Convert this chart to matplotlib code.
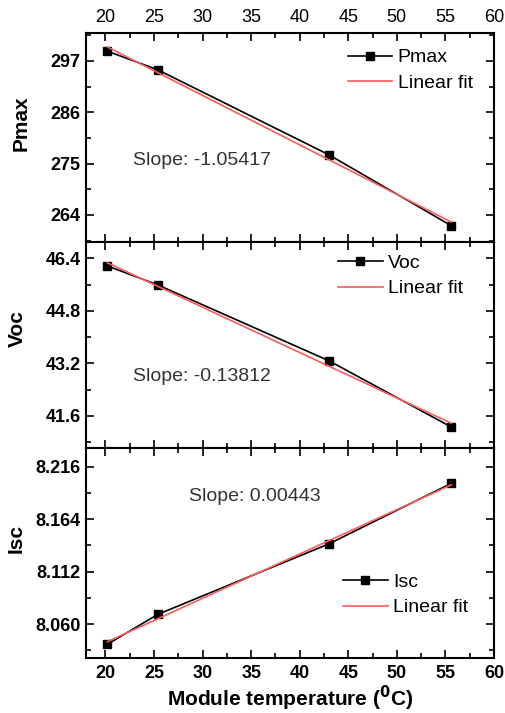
import numpy as np
import matplotlib
matplotlib.use("Agg")
import matplotlib.pyplot as plt
from matplotlib.ticker import MultipleLocator, AutoMinorLocator

plt.rcParams['font.family'] = ['Liberation Sans', 'DejaVu Sans']

temp = [20.2, 25.4, 43.0, 55.6]
pmax = [299.1, 295.1, 276.9, 261.7]
voc = [46.17, 45.59, 43.28, 41.26]
isc = [8.0399, 8.0696, 8.1395, 8.1995]

xticks = [20, 25, 30, 35, 40, 45, 50, 55, 60]
pmax_ticks = [264, 275, 286, 297]
voc_ticks = [41.6, 43.2, 44.8, 46.4]
isc_ticks = [8.060, 8.112, 8.164, 8.216]

panels = [
    dict(y=pmax, name="Pmax", ylim=(258.2, 303.0), ticks=pmax_ticks, fmt="{:.0f}",
         slope="Slope: -1.05417", spos=(0.115, 0.39), legloc=(0.632, 0.943), labelx=-0.135, labely=0.569),
    dict(y=voc, name="Voc", ylim=(40.62, 46.9), ticks=voc_ticks, fmt="{:.1f}",
         slope="Slope: -0.13812", spos=(0.115, 0.345), legloc=(0.608, 0.961), labelx=-0.145, labely=0.578),
    dict(y=isc, name="Isc", ylim=(8.0263, 8.2346), ticks=isc_ticks, fmt="{:.3f}",
         slope="Slope: 0.00443", spos=(0.252, 0.768), legloc=(0.620, 0.423), labelx=-0.148, labely=0.571),
]

fig = plt.figure(figsize=(5.06, 7.13), dpi=100)
left, width = 86 / 506, 408 / 506
bounds = [(33, 242), (242, 448), (448, 658)]

for i, (p, (t, b)) in enumerate(zip(panels, bounds)):
    ax = fig.add_axes([left, 1 - b / 713, width, (b - t) / 713])
    ax.plot(temp, p["y"], color="black", lw=1.2, marker="s", ms=6, label=p["name"], zorder=3)
    coef = np.polyfit(temp, p["y"], 1)
    xf = np.array([temp[0], temp[-1]])
    ax.plot(xf, np.polyval(coef, xf), color="#ff5a5a", lw=1.2, label="Linear fit", zorder=4)
    ax.set_xlim(18, 60)
    ax.set_ylim(*p["ylim"])
    ax.set_xticks(xticks)
    ax.xaxis.set_minor_locator(MultipleLocator(2.5))
    ax.set_yticks(p["ticks"])
    ax.set_yticklabels([p["fmt"].format(v) for v in p["ticks"]])
    ax.yaxis.set_minor_locator(AutoMinorLocator(2))
    ax.tick_params(which="both", direction="in", top=True, right=True, width=1.2)
    ax.tick_params(which="major", length=6)
    ax.tick_params(which="minor", length=3.5)
    ax.tick_params(axis="y", labelsize=13, pad=4)
    ax.tick_params(axis="x", labelsize=13, pad=5)
    for lab in ax.get_yticklabels() + ax.get_xticklabels():
        lab.set_fontweight("bold")
    ax.tick_params(axis="x", labelbottom=(i == 2), labeltop=(i == 0))
    for s in ax.spines.values():
        s.set_linewidth(1.5)
    ax.set_ylabel(p["name"], fontsize=15, fontweight="bold")
    ax.yaxis.set_label_coords(p["labelx"], p["labely"])
    ax.text(p["spos"][0], p["spos"][1], p["slope"], transform=ax.transAxes,
            fontsize=14, color="#333333", va="center", ha="left")
    leg = ax.legend(loc="upper left", bbox_to_anchor=p["legloc"], frameon=False,
                    fontsize=14, handlelength=2.3, handletextpad=0.27, labelspacing=0.42,
                    borderpad=0.2, borderaxespad=0.0)
    if i == 2:
        ax.set_xlabel("Module temperature ($\\mathbf{^0}$C)", fontsize=15, fontweight="bold",
                      labelpad=1)

fig.savefig("out.png", dpi=100)
